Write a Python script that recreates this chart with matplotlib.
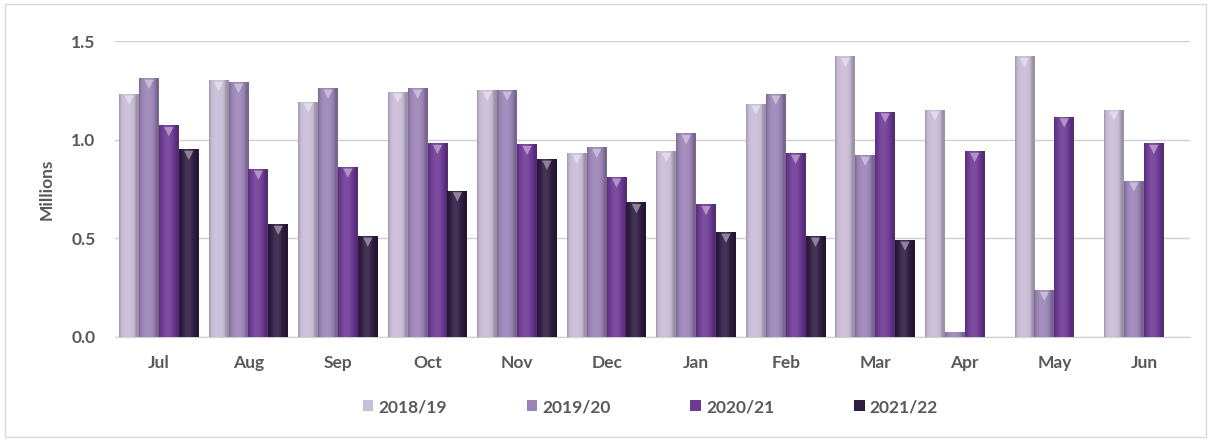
import numpy as np
import matplotlib
matplotlib.use("Agg")
import matplotlib.pyplot as plt
from matplotlib.patches import Patch, Rectangle
from matplotlib.colors import to_rgb

months = ["Jul", "Aug", "Sep", "Oct", "Nov", "Dec", "Jan", "Feb", "Mar", "Apr", "May", "Jun"]
series = ["2018/19", "2019/20", "2020/21", "2021/22"]

# values in millions (None = no bar)
v1819 = [1.23, 1.30, 1.19, 1.24, 1.25, 0.93, 0.94, 1.18, 1.42, 1.15, 1.42, 1.15]
v1920 = [1.31, 1.29, 1.26, 1.26, 1.25, 0.96, 1.03, 1.23, 0.92, 0.025, 0.235, 0.79]
v2021 = [1.07, 0.85, 0.86, 0.98, 0.975, 0.81, 0.67, 0.93, 1.14, 0.94, 1.115, 0.98]
v2122 = [0.95, 0.57, 0.51, 0.74, 0.90, 0.68, 0.53, 0.51, 0.49, None, None, None]

colors = ["#c8bcd6", "#9a84b6", "#6e3a95", "#2f1d42"]
TXT = "#595959"
plt.rcParams["font.family"] = ["Lato", "DejaVu Sans"]


def shade(c, f):
    r = np.array(to_rgb(c))
    return np.clip(r * f if f < 1 else r + (1 - r) * (f - 1), 0, 1)


def gradient_bar(ax, x, w, h, c):
    # horizontal "cylinder" shading like the Excel bars
    t = np.linspace(0, 1, 40)
    prof = 0.78 + 0.32 * np.sin(np.pi * np.clip(t * 1.15, 0, 1)) ** 0.6
    img = np.array([[shade(c, p) for p in prof]])
    ax.imshow(img, extent=(x - w / 2, x + w / 2, 0, h), aspect="auto",
              interpolation="bilinear", zorder=3)


fig = plt.figure(figsize=(12.11, 4.41), dpi=100)
ax = fig.add_axes([0.095, 0.236, 0.888, 0.671])
x = np.arange(len(months))
w = 0.222
for i, (vals, c) in enumerate(zip([v1819, v1920, v2021, v2122], colors)):
    for j, v in enumerate(vals):
        if v is None:
            continue
        xc = x[j] + (i - 1.5) * w
        gradient_bar(ax, xc, w, v, c)
        if v > 0.1:
            ax.scatter(xc, v - 0.03, marker="v", s=45, color=shade(c, 1.45),
                       edgecolors="none", zorder=4)

ax.set_xlim(-0.49, 11.52)
ax.set_ylim(0, 1.5)
ax.set_yticks([0, 0.5, 1.0, 1.5])
ax.set_yticklabels(["0.0", "0.5", "1.0", "1.5"])
ax.set_xticks(x)
ax.set_xticklabels(months)
ax.tick_params(length=0, labelsize=12.5, colors=TXT, pad=13)
ax.tick_params(axis="y", pad=14)
for lab in ax.get_xticklabels() + ax.get_yticklabels():
    lab.set_fontweight("bold")
ax.grid(axis="y", color="#d2cdd6", lw=1, zorder=0)
for s in ["top", "right", "left"]:
    ax.spines[s].set_visible(False)
ax.spines["bottom"].set_color("#d0d0d0")
ax.set_ylabel("Millions", fontsize=12.5, fontweight="bold", color=TXT, labelpad=12)

handles = [Patch(facecolor=c, edgecolor="none") for c in colors]
fig.legend(handles, series, loc="center", bbox_to_anchor=(0.537, 0.077), ncol=4,
           frameon=False, prop={"size": 12.5, "weight": "bold"}, labelcolor=TXT,
           handlelength=0.6, handleheight=0.6, handletextpad=0.3, columnspacing=4.6)

fig.patches.append(Rectangle((0.004, 0.008), 0.992, 0.982, transform=fig.transFigure,
                             fill=False, edgecolor="#d9d9d9", lw=1))
fig.savefig("out.png", dpi=100)
